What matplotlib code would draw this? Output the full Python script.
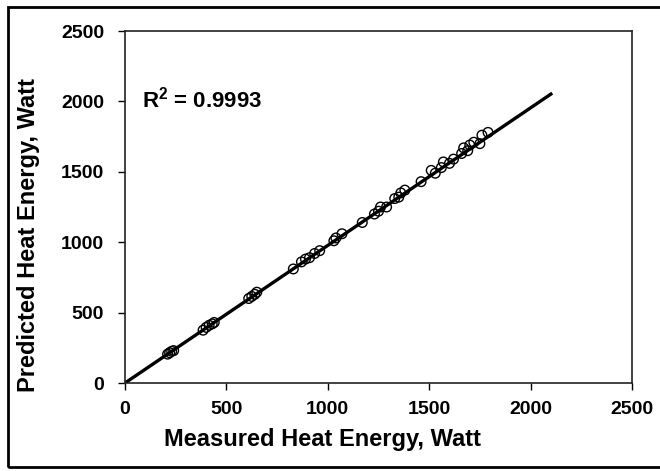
import numpy as np
import matplotlib
matplotlib.use("Agg")
import matplotlib.pyplot as plt
from matplotlib.patches import Rectangle

# measured vs predicted heat energy (Watt)
measured = [210, 220, 230, 240, 385, 400, 415, 430, 440,
            610, 625, 640, 650, 830, 870, 890, 910, 935, 960,
            1030, 1040, 1070, 1170, 1230, 1250, 1260, 1290, 1330, 1350,
            1360, 1380, 1460, 1510, 1530, 1560, 1570, 1600, 1620, 1660,
            1670, 1690, 1700, 1720, 1750, 1760, 1790]
predicted = [205, 215, 225, 230, 375, 395, 410, 420, 430,
             600, 615, 630, 645, 810, 860, 880, 890, 920, 940,
             1010, 1030, 1060, 1140, 1200, 1220, 1250, 1250, 1310, 1320,
             1350, 1370, 1430, 1510, 1490, 1530, 1570, 1560, 1590, 1630,
             1670, 1650, 1690, 1710, 1700, 1760, 1780]
fit_x = [0, 2100]
fit_y = [0, 2052]
r2_text = "R$^\\mathbf{2}$ = 0.9993"
ticks = [0, 500, 1000, 1500, 2000, 2500]

plt.rcParams['font.family'] = ['Liberation Sans', 'DejaVu Sans']
plt.rcParams['font.weight'] = 'bold'
plt.rcParams['mathtext.fontset'] = 'custom'
plt.rcParams['mathtext.bf'] = 'Liberation Sans:bold'
plt.rcParams['mathtext.rm'] = 'Liberation Sans:bold'

fig = plt.figure(figsize=(6.6, 4.71), dpi=100)
ax = fig.add_axes([125/660, 1-383/471, (632-125)/660, (383-31)/471])

ax.plot(fit_x, fit_y, color='black', lw=2.4, zorder=2)
ax.scatter(measured, predicted, s=48, facecolors='none', edgecolors='black',
           linewidths=1.0, zorder=3)

ax.set_xlim(0, 2500)
ax.set_ylim(0, 2500)
ax.set_xticks(ticks)
ax.set_yticks(ticks)
ax.tick_params(direction='out', length=5, width=1, labelsize=14, color='black')
ax.tick_params(axis='x', pad=8)
ax.tick_params(axis='y', pad=10)
for s in ax.spines.values():
    s.set_linewidth(1.2)
    s.set_color('#222222')

ax.set_xlabel("Measured Heat Energy, Watt", fontsize=17, fontweight='bold')
ax.set_ylabel("Predicted Heat Energy, Watt", fontsize=17, fontweight='bold')
ax.xaxis.set_label_coords(0.39, -0.128)
ax.yaxis.set_label_coords(-0.168, 0.42)

ax.text(84, 2010, r2_text, fontsize=16, fontweight='bold', va='center', ha='left')

# outer chart border
fig.patches.append(Rectangle((8/660, 4/471), 660/660, 460/471, transform=fig.transFigure,
                             fill=False, edgecolor='black', lw=2))

fig.savefig("out.png", dpi=100)
